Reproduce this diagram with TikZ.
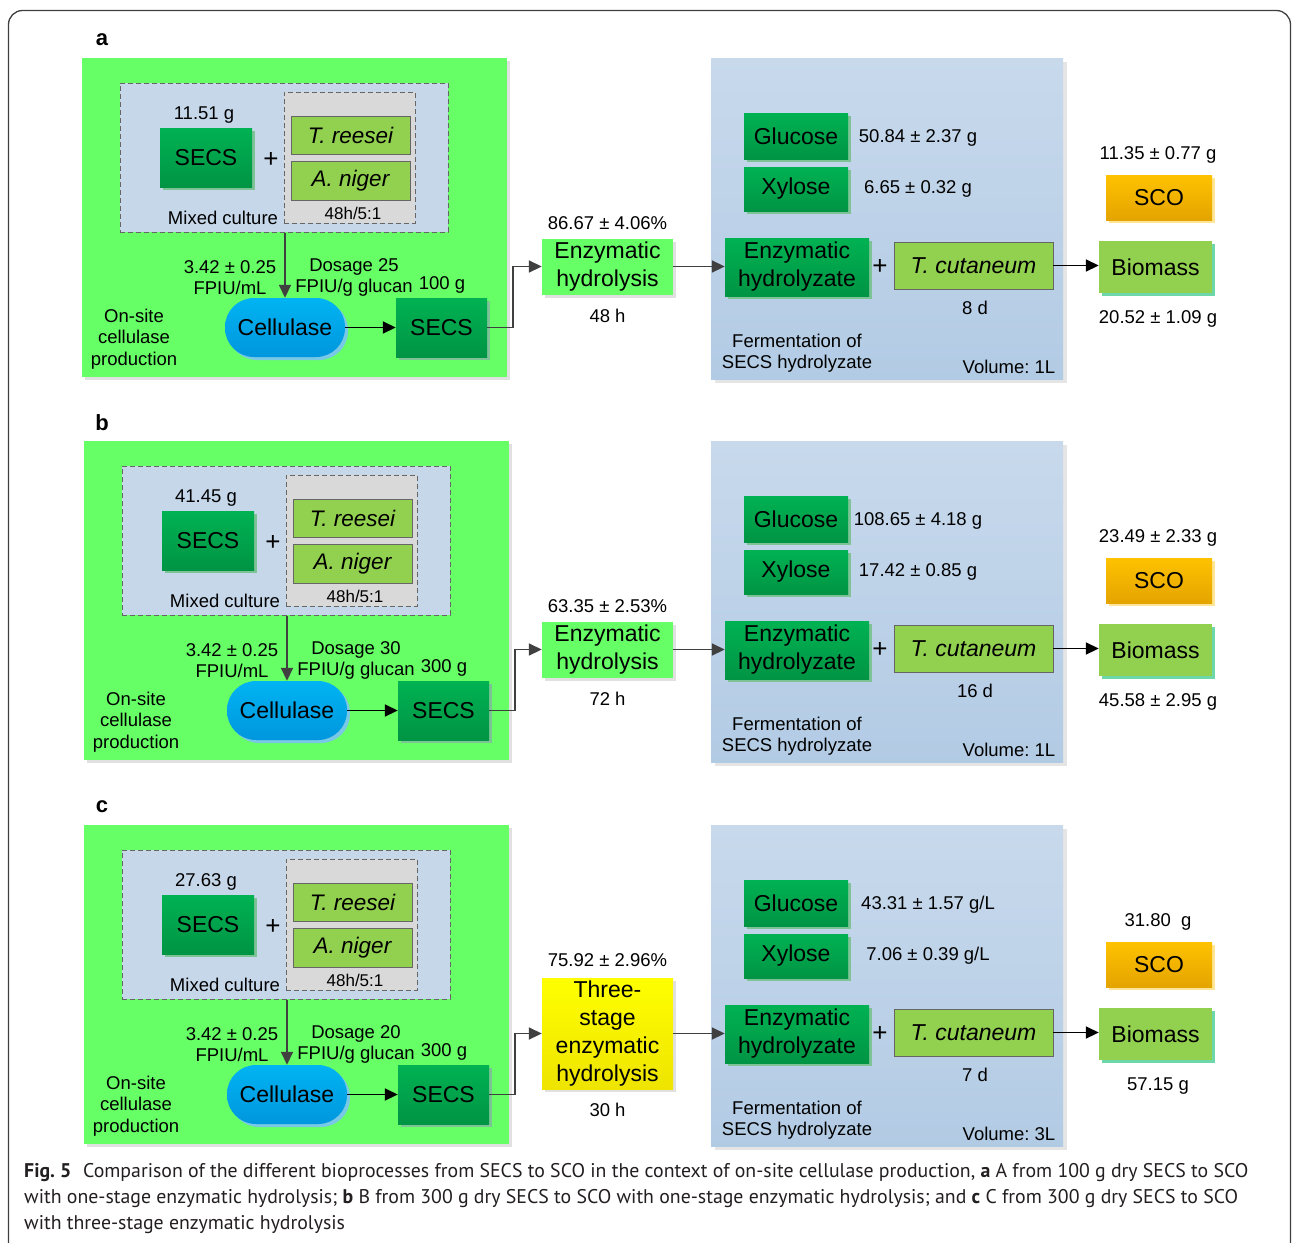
\documentclass[tikz,border=0pt]{standalone}
\usepackage{fontspec}
\setmainfont{Liberation Sans}
\newfontfamily\capfont{PT Sans}
\usetikzlibrary{arrows.meta,shadows,positioning}
\frenchspacing
\newcommand\fs[2]{\fontsize{#1}{#2}\selectfont}
\definecolor{pgreen}{RGB}{102,255,102}
\definecolor{mixbg}{RGB}{198,215,234}
\definecolor{innerbg}{RGB}{217,217,217}
\definecolor{lgreen}{RGB}{146,208,80}
\definecolor{dkgA}{RGB}{0,178,82}
\definecolor{dkgB}{RGB}{0,148,68}
\definecolor{dkgS}{RGB}{125,195,150}
\definecolor{cellA}{RGB}{0,180,242}
\definecolor{cellB}{RGB}{0,150,222}
\definecolor{cellS}{RGB}{120,200,230}
\definecolor{scoA}{RGB}{255,194,0}
\definecolor{scoB}{RGB}{228,164,0}
\definecolor{scoS}{RGB}{255,230,150}
\definecolor{bioS}{RGB}{110,215,170}
\definecolor{bluA}{RGB}{200,217,236}
\definecolor{bluB}{RGB}{178,203,228}
\definecolor{arrgray}{RGB}{64,64,64}
\definecolor{yelB}{RGB}{238,228,0}
\definecolor{capgray}{RGB}{35,31,32}
\tikzset{
  txt/.style={inner sep=0pt, align=center, font=\fs{18.5}{21.5}, text=black},
  small/.style={inner sep=0pt, font=\fs{17}{18}},
  plus/.style={inner sep=0pt, font=\fs{26}{26}},
  plabel/.style={inner sep=0pt, font=\bfseries\fs{22}{22}},
  greenpanel/.style={fill=pgreen, draw=none, drop shadow={shadow xshift=3pt,shadow yshift=-3pt,fill=black!12,opacity=1}},
  mixbox/.style={fill=mixbg, draw=black!60, dash pattern=on 5pt off 3pt, line width=1pt},
  innerbox/.style={fill=innerbg, draw=black!60, dash pattern=on 5pt off 3pt, line width=1pt},
  dgbox/.style={top color=dkgA, bottom color=dkgB, draw=none, inner sep=0pt, align=center, font=\fs{23}{28},
     drop shadow={shadow xshift=3pt,shadow yshift=-3pt,fill=dkgS,opacity=1}},
  lgbox/.style={fill=lgreen, draw=black!60, line width=0.9pt, inner sep=0pt},
  cellbox/.style={top color=cellA, bottom color=cellB, draw=none, rounded corners=29pt, inner sep=0pt, font=\fs{23}{26},
     drop shadow={shadow xshift=3pt,shadow yshift=-3pt,fill=cellS,opacity=1}},
  hydbox/.style={fill=pgreen, draw=none, inner sep=0pt, align=center, font=\fs{23}{28}, minimum height=56pt,
     drop shadow={shadow xshift=3pt,shadow yshift=-3pt,fill=black!12,opacity=1}},
  yelbox/.style={top color=yellow, bottom color=yelB, draw=none, inner sep=0pt, align=center, font=\fs{23}{27.7}, minimum height=111pt,
     drop shadow={shadow xshift=3pt,shadow yshift=-3pt,fill=black!12,opacity=1}},
  bluepanel/.style={top color=bluA, bottom color=bluB, draw=none,
     drop shadow={shadow xshift=4pt,shadow yshift=-3pt,fill=black!10,opacity=1}},
  scobox/.style={top color=scoA, bottom color=scoB, draw=none, inner sep=0pt, font=\fs{23}{24},
     drop shadow={shadow xshift=3pt,shadow yshift=-3pt,fill=scoS,opacity=1}},
  biobox/.style={fill=lgreen, draw=none, inner sep=0pt, font=\fs{23}{24},
     drop shadow={shadow xshift=3pt,shadow yshift=-3pt,fill=bioS,opacity=1}},
  arr/.style={draw=arrgray, line width=1.7pt, -{Triangle[length=13pt,width=12pt]}},
  blkarr/.style={draw=black, line width=1.7pt, -{Triangle[length=13pt,width=12pt]}},
  hydstyle/.style={hydbox}
}
\newcommand\panel[3]{%
\begin{scope}[name prefix=#1-, shift={(0,#3)}]
  \node[plabel] (lab) at (102,40) {#1};
  \begin{scope}[shift={(#2,0)}]
    \node[greenpanel, minimum width=425pt, minimum height=319pt] (gp) at (294.5,217.5) {};
    \node[mixbox, minimum width=328pt, minimum height=149pt] (mix) at (284,157.5) {};
    \node[innerbox, minimum width=131pt, minimum height=131pt] (inner) at (349.5,157.5) {};
    \node[lgbox, minimum width=119pt, minimum height=38pt, font=\itshape\fs{22.5}{24}] (tr) at (350.5,135) {T. reesei};
    \node[lgbox, minimum width=119pt, minimum height=39pt, font=\itshape\fs{22.5}{24}] (an) at (350.5,181) {A. niger};
    \node[small] (ratio) at (353,213) {48h/5:1};
    \node[txt] (mass) at (204,115) {\vSecs};
    \node[dgbox, minimum width=92pt, minimum height=59pt] (secs) at (206,157.5) {SECS};
    \node[plus] (plusA) at (271,160) {+};
    \node[txt] (mixlab) at (223,218) {Mixed culture};
    \node[cellbox, minimum width=120pt, minimum height=59pt] (cell) at (285,327.5) {Cellulase};
    \node[txt] (act) at (230,277.5) {3.42 ± 0.25\\FPIU/mL};
    \node[txt] (dose) at (354,277.5) {Dosage \vDose\\FPIU/g glucan};
    \node[txt] (amt) at (442,285) {\vAmt};
    \node[dgbox, minimum width=91pt, minimum height=59pt] (secsB) at (441.5,327.5) {SECS};
    \node[txt] (onsite) at (134,339) {On-site\\cellulase\\production};
    \draw[arr] (mix.south -| cell.north) -- (cell.north);
    \draw[blkarr] (cell) -- (secsB);
  \end{scope}
  \node[bluepanel, minimum width=352pt, minimum height=321pt] (bp) at (887,219) {};
  \node[hydstyle, minimum width=131pt] (hyd) at (607.5,266.5) {\vHyd};
  \node[txt, above=\vPctGap of hyd] (pct) {\vPct};
  \node[txt, below=14pt of hyd] (time) {\vTime};
  \draw[arr] (secsB.east) -- ++(26,0) |- (hyd.west);
  \node[dgbox, minimum width=104pt, minimum height=46pt] (glu) at (796,136) {Glucose};
  \node[dgbox, minimum width=104pt, minimum height=44pt] (xyl) at (796,189) {Xylose};
  \node[txt] (gluv) at (\vValX,138) {\vGlu};
  \node[txt] (xylv) at (\vValX,189) {\vXyl};
  \node[dgbox, minimum width=144pt, minimum height=58pt] (eh) at (797,267) {Enzymatic\\hydrolyzate};
  \node[plus] (plusB) at (880,267) {+};
  \node[lgbox, minimum width=159pt, minimum height=47pt, font=\itshape\fs{23}{24}] (tc) at (973.5,265.5) {T. cutaneum};
  \node[txt] (days) at (975,308) {\vDays};
  \node[txt] (ferm) at (797,353) {Fermentation of\\SECS hydrolyzate};
  \node[txt] (vol) at (1009,367) {Volume: \vVol};
  \node[scobox, minimum width=106pt, minimum height=45pt] (sco) at (1159,197.5) {SCO};
  \node[txt] (scov) at (1158,155) {\vSCO};
  \node[biobox, minimum width=113pt, minimum height=52pt] (bio) at (1155.5,267) {Biomass};
  \node[txt] (biov) at (1158,319) {\vBio};
  \draw[arr] (hyd.east) -- (hyd.east -| eh.west);
  \draw[blkarr] (tc.east) -- (tc.east -| bio.west);
\end{scope}}

\begin{document}
\begin{tikzpicture}[x=1pt,y=-1pt]
\useasboundingbox[fill=white] (0,0) rectangle (1292,1242);
\draw[draw=black!75, line width=1.3pt, rounded corners=14pt] (8.5,10.5) rectangle (1290.5,1300);
% panel a
\def\vSecs{11.51 g}\def\vDose{25}\def\vAmt{100 g}\def\vPct{86.67 ± 4.06\%}\def\vTime{48 h}
\def\vGlu{50.84 ± 2.37 g}\def\vXyl{6.65 ± 0.32 g}\def\vValX{918}\def\vDays{8 d}\def\vVol{1L}
\def\vSCO{11.35 ± 0.77 g}\def\vBio{20.52 ± 1.09 g}\def\vHyd{Enzymatic\\hydrolysis}\def\vPctGap{8pt}
\panel{a}{0}{0}
% panel b
\def\vSecs{41.45 g}\def\vDose{30}\def\vAmt{300 g}\def\vPct{63.35 ± 2.53\%}\def\vTime{72 h}
\def\vGlu{108.65 ± 4.18 g}\def\vXyl{17.42 ± 0.85 g}\def\vValX{918}\def\vDays{16 d}\def\vVol{1L}
\def\vSCO{23.49 ± 2.33 g}\def\vBio{45.58 ± 2.95 g}
\panel{b}{2}{383}
% panel c
\tikzset{hydstyle/.style={yelbox}}
\def\vSecs{27.63 g}\def\vDose{20}\def\vAmt{300 g}\def\vPct{75.92 ± 2.96\%}\def\vTime{30 h}
\def\vGlu{43.31 ± 1.57 g/L}\def\vXyl{7.06 ± 0.39 g/L}\def\vValX{928}\def\vDays{7 d}\def\vVol{3L}
\def\vSCO{31.80\ \ g}\def\vBio{57.15 g}\def\vHyd{Three-\\stage\\enzymatic\\hydrolysis}\def\vPctGap{11pt}
\panel{c}{2}{767}
% caption
\begin{scope}[every node/.style={inner sep=0pt, anchor=base west, font=\capfont\fs{19.8}{22}, text=capgray}]
\node (cap1) at (24,1177) {\textbf{Fig. 5}\hspace{0.6em}Comparison of the different bioprocesses from SECS to SCO in the context of on-site cellulase production, \textbf{a} A from 100 g dry SECS to SCO};
\node (cap2) at (24,1203) {with one-stage enzymatic hydrolysis; \textbf{b} B from 300 g dry SECS to SCO with one-stage enzymatic hydrolysis; and \textbf{c} C from 300 g dry SECS to SCO};
\node (cap3) at (24,1229) {with three-stage enzymatic hydrolysis};
\end{scope}
\end{tikzpicture}
\end{document}
